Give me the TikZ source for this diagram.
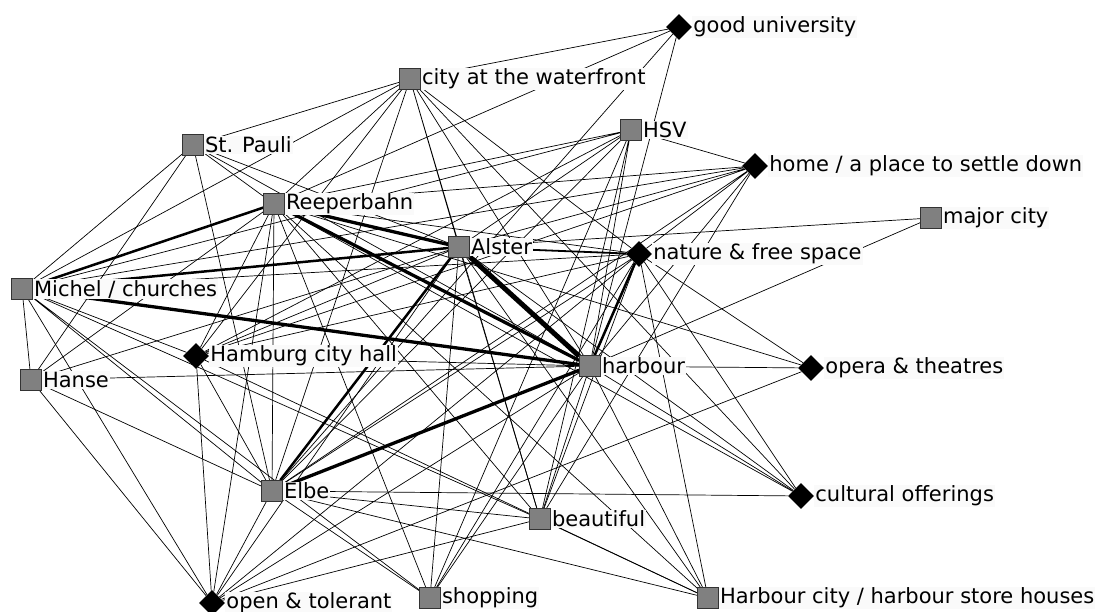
\documentclass[tikz,border=0pt]{standalone}
\usepackage{fontspec}
\setmainfont{DejaVu Sans}
\usetikzlibrary{shapes.geometric,backgrounds}
\definecolor{boxgray}{RGB}{128,128,128}
\definecolor{lblback}{RGB}{250,250,250}

\begin{document}
\begin{tikzpicture}[x=1pt,y=-1pt,
    sq/.style={rectangle, draw=black!80, fill=boxgray, line width=0.7pt, minimum size=21pt, inner sep=0pt},
    dia/.style={diamond, fill=black, minimum size=26pt, inner sep=0pt},
    lbl/.style={fill=lblback, inner sep=1pt, font=\fontsize{21}{23}\selectfont},
    every label/.style={lbl},
    tie/.style={line width=0.7pt},
    mid/.style={line width=2.5pt},
    heavy/.style={line width=3.3pt},
    heaviest/.style={line width=5pt}]
    \useasboundingbox (0,0) rectangle (1104,612);

    % actors and places
    \node[dia] (uni) at (679,27) [label=east:good university] {};
    \node[sq] (water) at (410,79) [label=east:city at the waterfront] {};
    \node[sq] (pauli) at (193,145) [label=east:St. Pauli] {};
    \node[sq] (hsv) at (631,130) [label=east:HSV] {};
    \node[dia] (home) at (755,166) [label=east:home / a place to settle down] {};
    \node[sq] (reeper) at (274,204) [label=east:Reeperbahn] {};
    \node[sq] (major) at (931,218) [label=east:major city] {};
    \node[sq] (alster) at (459,247) [label=east:Alster] {};
    \node[dia] (nature) at (639,254) [label=east:nature \& free space] {};
    \node[sq] (michel) at (22,289) [label=east:Michel / churches] {};
    \node[dia] (hall) at (196,356) [label=east:Hamburg city hall] {};
    \node[sq] (hanse) at (31,380) [label=east:Hanse] {};
    \node[sq] (harbour) at (590,366) [label=east:harbour] {};
    \node[dia] (opera) at (811,368) [label=east:opera \& theatres] {};
    \node[sq] (elbe) at (272,491) [label=east:Elbe] {};
    \node[dia] (cultural) at (801,496) [label=east:cultural offerings] {};
    \node[sq] (beautiful) at (540,519) [label=east:beautiful] {};
    \node[dia] (tolerant) at (212,603) [label=east:open \& tolerant] {};
    \node[sq] (shopping) at (430,598) [label=east:shopping] {};
    \node[sq] (hcity) at (708,598) [label=east:Harbour city / harbour store houses] {};

    \begin{scope}[on background layer]
        % strong ties
        \draw[heaviest] (alster) -- (harbour);
        \draw[heavy] (reeper) -- (harbour);
        \draw[heavy] (reeper) -- (alster);
        \draw[heavy] (michel) -- (harbour);
        \draw[heavy] (harbour) -- (elbe);
        \draw[mid] (michel) -- (reeper);
        \draw[mid] (michel) -- (alster);
        \draw[mid] (alster) -- (elbe);
        \draw[mid] (harbour) -- (nature);
        \draw[line width=1.8pt] (alster) -- (nature);
        % weak ties
        \draw[tie] (uni) -- (water) (uni) -- (reeper) (uni) -- (harbour) (uni) -- (elbe);
        \draw[tie] (water) -- (pauli) (water) -- (michel) (water) -- (reeper) (water) -- (hall)
            (water) -- (alster) (water) -- (harbour) (water) -- (beautiful) (water) -- (cultural)
            (water) -- (nature) (water) -- (elbe);
        \draw[tie] (pauli) -- (michel) (pauli) -- (hanse) (pauli) -- (reeper) (pauli) -- (alster)
            (pauli) -- (harbour) (pauli) -- (elbe);
        \draw[tie] (hsv) -- (reeper) (hsv) -- (michel) (hsv) -- (alster) (hsv) -- (harbour)
            (hsv) -- (elbe) (hsv) -- (home) (hsv) -- (beautiful) (hsv) -- (hall) (hsv) -- (shopping);
        \draw[tie] (home) -- (reeper) (home) -- (alster) (home) -- (harbour) (home) -- (nature)
            (home) -- (elbe) (home) -- (hall) (home) -- (beautiful) (home) -- (michel);
        \draw[tie] (major) -- (alster) (major) -- (harbour);
        \draw[tie] (reeper) -- (hall) (reeper) -- (elbe) (reeper) -- (beautiful) (reeper) -- (shopping)
            (reeper) -- (nature) (reeper) -- (tolerant) (reeper) -- (hcity) (reeper) -- (hanse)
            (reeper) -- (cultural);
        \draw[tie] (alster) -- (hall) (alster) -- (hanse) (alster) -- (beautiful) (alster) -- (shopping)
            (alster) -- (tolerant) (alster) -- (hcity) (alster) -- (cultural);
        \draw[tie] (nature) -- (michel) (nature) -- (elbe) (nature) -- (beautiful) (nature) -- (hcity)
            (nature) -- (cultural) (nature) -- (shopping) (nature) -- (hall) (nature) -- (tolerant);
        \draw[tie] (michel) -- (hall) (michel) -- (hanse) (michel) -- (elbe) (michel) -- (tolerant)
            (michel) -- (beautiful) (michel) -- (shopping);
        \draw[tie] (hall) -- (elbe) (hall) -- (harbour) (hall) -- (tolerant) (hall) -- (hcity);
        \draw[tie] (hanse) -- (harbour) (hanse) -- (elbe) (hanse) -- (tolerant);
        \draw[tie] (harbour) -- (opera) (harbour) -- (beautiful) (harbour) -- (shopping)
            (harbour) -- (tolerant) (harbour) -- (hcity) (harbour) -- (cultural);
        \draw[tie] (opera) -- (nature) (opera) -- (tolerant) (opera) -- (reeper);
        \draw[tie] (elbe) -- (beautiful) (elbe) -- (cultural) (elbe) -- (shopping) (elbe) -- (tolerant)
            (elbe) -- (hcity);
        \draw[tie] (beautiful) -- (hcity) (beautiful) -- (tolerant);
    \end{scope}
\end{tikzpicture}
\end{document}
